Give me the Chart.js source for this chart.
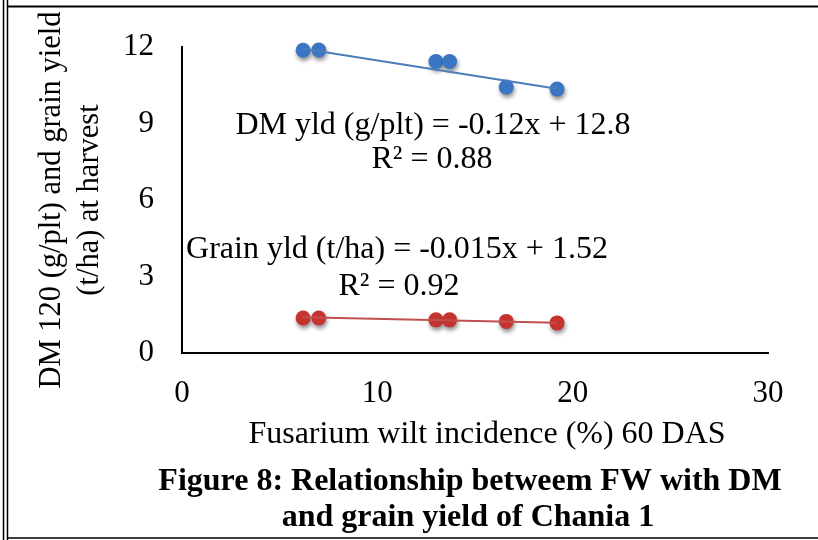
<!DOCTYPE html>
<html>
<head>
<meta charset="utf-8">
<script src="https://cdn.jsdelivr.net/npm/chart.js@4/dist/chart.umd.min.js"></script>
<style>
    body { margin: 0; background: #fff; }
    canvas { display: block; }
</style>
</head>
<body>
<canvas id="chart" width="818" height="540"></canvas>
<script>
// values
const incidence = [6.2, 7.0, 13.0, 13.7, 16.6, 19.2];
const dmYield = [11.87, 11.88, 11.43, 11.43, 10.43, 10.35];
const grainYield = [1.37, 1.37, 1.30, 1.30, 1.24, 1.18];

// trendline end points (min and max x)
const trendX = [6.2, 19.2];
const dmTrend = [11.93, 10.36];
const grainTrend = [1.40, 1.19];

const xTicks = [0, 10, 20, 30];
const yTicks = [0, 3, 6, 9, 12];

const serif = "'Liberation Serif', 'Times New Roman', serif";

const toPoints = (xs, ys) => xs.map((x, i) => ({ x: x, y: ys[i] }));

// drop shadow under the markers, like the Excel original
const shadowPlugin = {
    id: "shadow",
    beforeDatasetDraw(chart, args) {
        const ds = chart.data.datasets[args.index];
        if (!ds.shadow) return;
        const ctx = chart.ctx;
        ctx.save();
        ctx.shadowColor = "rgba(0,0,0,0.45)";
        ctx.shadowBlur = 4;
        ctx.shadowOffsetX = 1;
        ctx.shadowOffsetY = 3;
    },
    afterDatasetDraw(chart, args) {
        const ds = chart.data.datasets[args.index];
        if (!ds.shadow) return;
        chart.ctx.restore();
    },
};

// equations, x title, caption and the page frame
const textPlugin = {
    id: "texts",
    afterDraw(chart) {
        const ctx = chart.ctx;
        ctx.save();
        ctx.fillStyle = "#000";
        ctx.textAlign = "center";
        ctx.textBaseline = "middle";
        ctx.font = "32px " + serif;
        ctx.fillText("DM yld (g/plt) = -0.12x + 12.8", 433, 126);
        ctx.fillText("R\u00b2 = 0.88", 432, 160);
        ctx.fillText("Grain yld (t/ha) = -0.015x + 1.52", 397, 250);
        ctx.fillText("R\u00b2 = 0.92", 399, 287);
        ctx.fillText("Fusarium wilt incidence (%) 60 DAS", 487, 435);

        ctx.font = "bold 32px " + serif;
        ctx.fillText("Figure 8: Relationship betweem FW with DM", 470, 482);
        ctx.fillText("and grain yield of Chania 1", 468, 518);

        ctx.strokeStyle = "#000";
        ctx.lineWidth = 1.5;
        ctx.beginPath();
        ctx.moveTo(3.5, 0); ctx.lineTo(3.5, 540);
        ctx.moveTo(7.5, 0); ctx.lineTo(7.5, 540);
        ctx.moveTo(7.5, 538); ctx.lineTo(818, 538);
        ctx.stroke();
        ctx.lineWidth = 2;
        ctx.beginPath();
        ctx.moveTo(7.5, 6.5); ctx.lineTo(818, 6.5);
        ctx.stroke();
        ctx.restore();
    },
};

const ctx = document.getElementById("chart").getContext("2d");
const chart = new Chart(ctx, {
    type: "scatter",
    data: {
        datasets: [
            {
                label: "DM trend",
                data: toPoints(trendX, dmTrend),
                showLine: true,
                borderColor: "#4a7ebb",
                borderWidth: 2,
                pointRadius: 0,
                order: 0,
            },
            {
                label: "Grain trend",
                data: toPoints(trendX, grainTrend),
                showLine: true,
                borderColor: "#c0504d",
                borderWidth: 2,
                pointRadius: 0,
                order: 0,
            },
            {
                label: "DM yld (g/plt)",
                data: toPoints(incidence, dmYield),
                backgroundColor: "#3a76c4",
                borderWidth: 0,
                pointRadius: 7.5,
                shadow: true,
                order: 1,
            },
            {
                label: "Grain yld (t/ha)",
                data: toPoints(incidence, grainYield),
                backgroundColor: "#c6332f",
                borderWidth: 0,
                pointRadius: 7.5,
                shadow: true,
                order: 1,
            },
        ],
    },
    options: {
        responsive: false,
        animation: false,
        clip: false,
        layout: { padding: { top: 47, right: 50, left: 0, bottom: 0 } },
        plugins: {
            legend: { display: false },
            tooltip: { enabled: false },
        },
        scales: {
            x: {
                type: "linear",
                min: 0,
                max: 30,
                afterBuildTicks: (scale) => { scale.ticks = xTicks.map((v) => ({ value: v })); },
                afterFit: (scale) => { scale.height = 187; },
                grid: { display: false },
                border: { display: true, color: "#000", width: 2 },
                ticks: {
                    color: "#000",
                    padding: 14,
                    maxRotation: 0,
                    font: { family: serif, size: 31 },
                },
            },
            y: {
                type: "linear",
                min: 0,
                max: 12,
                afterBuildTicks: (scale) => { scale.ticks = yTicks.map((v) => ({ value: v })); },
                afterFit: (scale) => { scale.width = 182; },
                grid: { display: false },
                border: { display: true, color: "#000", width: 2 },
                ticks: {
                    color: "#000",
                    padding: 20,
                    font: { family: serif, size: 31 },
                },
                title: {
                    display: true,
                    text: ["DM 120 (g/plt) and grain yield", "(t/ha) at harvest"],
                    color: "#000",
                    padding: { top: 33, bottom: 0 },
                    font: { family: serif, size: 30.5, lineHeight: 1.25 },
                },
            },
        },
    },
    plugins: [shadowPlugin, textPlugin],
});
</script>
</body>
</html>
